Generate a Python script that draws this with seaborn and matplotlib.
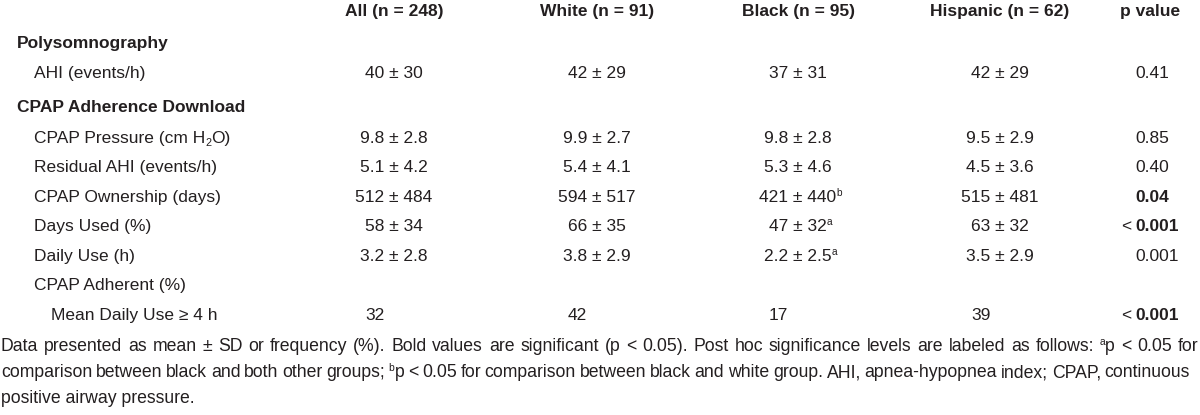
import matplotlib
matplotlib.use("Agg")
import matplotlib.pyplot as plt
from matplotlib import font_manager as fm
import seaborn as sns

# ---------------- data ----------------
group_headers = ["All (n = 248)", "White (n = 91)", "Black (n = 95)", "Hispanic (n = 62)"]
p_header = "p value"

# each label is a list of (text, style) pieces; style: n normal, b bold, sub, sup
row_labels = [
    [("Polysomnography", "b")],
    [("AHI (events/h)", "n")],
    [("CPAP Adherence Download", "b")],
    [("CPAP Pressure (cm H", "n"), ("2", "sub"), ("O)", "n")],
    [("Residual AHI (events/h)", "n")],
    [("CPAP Ownership (days)", "n")],
    [("Days Used (%)", "n")],
    [("Daily Use (h)", "n")],
    [("CPAP Adherent (%)", "n")],
    [("Mean Daily Use \u2265 4 h", "n")],
]
row_indent = [0, 1, 0, 1, 1, 1, 1, 1, 1, 2]
data_rows = [1, 3, 4, 5, 6, 7, 9]          # rows that carry values

all_mean = ["40", "9.8", "5.1", "512", "58", "3.2", "32"]
all_sd = ["30", "2.8", "4.2", "484", "34", "2.8", None]
white_mean = ["42", "9.9", "5.4", "594", "66", "3.8", "42"]
white_sd = ["29", "2.7", "4.1", "517", "35", "2.9", None]
black_mean = ["37", "9.8", "5.3", "421", "47", "2.2", "17"]
black_sd = ["31", "2.8", "4.6", "440", "32", "2.5", None]
black_sup = ["", "", "", "b", "a", "a", ""]
hisp_mean = ["42", "9.5", "4.5", "515", "63", "3.5", "39"]
hisp_sd = ["29", "2.9", "3.6", "481", "32", "2.9", None]

p_values = ["0.41", "0.85", "0.40", "0.04", "0.001", "0.001", "0.001"]
p_prefix = ["", "", "", "", "<", "", "<"]
p_bold = [False, False, False, True, True, False, True]

footnote_lines = [
    [("Data presented as mean \u00b1 SD or frequency (%). Bold values are significant (p < 0.05). "
      "Post hoc significance levels are labeled as follows: ", "n"), ("a", "sup"),
     ("p < 0.05 for", "n")],
    [("comparison between black and both other groups; ", "n"), ("b", "sup"),
     ("p < 0.05 for comparison between black and white group. AHI, apnea-hypopnea index; "
      "CPAP, continuous", "n")],
    [("positive airway pressure.", "n")],
]

# ---------------- style / layout ----------------
sns.set_theme(style="white")


def installed(name):
    try:
        fm.findfont(fm.FontProperties(family=name), fallback_to_default=False)
        return True
    except Exception:
        return False


MAIN = "Liberation Sans Narrow" if installed("Liberation Sans Narrow") else "Liberation Sans"
FAM = [MAIN, "DejaVu Sans"]
plt.rcParams["font.family"] = FAM

INK = "#231f20"
W, H = 1200, 415
col_x = [394, 597, 798, 1000]
p_left = 1135
p_head_x = 1150
indent_x = [17, 34, 51]
header_base = 16
row_base = [48, 78, 112, 143, 172, 202, 231, 261, 290, 320]
foot_base = [351, 377, 403]
foot_target = [1198, 1190, None]

fig = plt.figure(figsize=(W / 100, H / 100), dpi=100)
ax = fig.add_axes([0, 0, 1, 1])
ax.set_xlim(0, W)
ax.set_ylim(H, 0)
ax.axis("off")
renderer = fig.canvas.get_renderer()
inv = ax.transData.inverted()
_cache = {}


def width(s, fs, weight="normal"):
    key = (s, round(fs, 4), weight)
    if key not in _cache:
        t = ax.text(0, 0, s, fontsize=fs, fontweight=weight)
        bb = t.get_window_extent(renderer)
        t.remove()
        (x0, _), (x1, _) = inv.transform([[bb.x0, bb.y0], [bb.x1, bb.y1]])
        _cache[key] = x1 - x0
    return _cache[key]


def advance(s, fs, weight="normal"):
    return width(s + "H", fs, weight) - width("H", fs, weight)


def piece_props(style, fs):
    if style == "b":
        return fs, "bold", 0.0
    if style == "sup":
        return fs * 0.58, "normal", -fs * 0.45
    if style == "sub":
        return fs * 0.62, "normal", fs * 0.25
    return fs, "normal", 0.0


def tokens(pieces):
    out = []
    for s, st in pieces:
        parts = s.split(" ")
        for i, p in enumerate(parts):
            if p:
                out.append((p, st))
            if i < len(parts) - 1:
                out.append((" ", st))
    return out


def rich(x, y, pieces, fs, ha="left", target=None):
    toks = list(pieces) if target is None else tokens(pieces)
    adv = []
    for s, st in toks:
        f, wgt, _ = piece_props(st, fs)
        adv.append(advance(s, f, wgt))
    total = sum(adv)
    extra = 0.0
    if target is not None:
        n_sp = sum(1 for s, _ in toks if s == " ")
        if n_sp:
            extra = (target - total) / n_sp
        total = target
    cx = x - (total / 2 if ha == "center" else total if ha == "right" else 0)
    for (s, st), a in zip(toks, adv):
        f, wgt, dy = piece_props(st, fs)
        if s == " " and target is not None:
            cx += a + extra
            continue
        ax.text(cx, y + dy, s, ha="left", va="baseline", fontsize=f, fontweight=wgt, color=INK)
        cx += a
    return total


# main size fitted to the reference label width
FS = 10 * 187 / width("CPAP Ownership (days)", 10)

# headers
for x, h in zip(col_x, group_headers):
    ax.text(x, header_base, h, ha="center", va="baseline", fontsize=FS,
            fontweight="bold", color=INK)
ax.text(p_head_x, header_base, p_header, ha="center", va="baseline", fontsize=FS,
        fontweight="bold", color=INK)

# row labels
for lab, ind, y in zip(row_labels, row_indent, row_base):
    rich(indent_x[ind], y, lab, FS)

# values
groups = [(all_mean, all_sd, None), (white_mean, white_sd, None),
          (black_mean, black_sd, black_sup), (hisp_mean, hisp_sd, None)]
for gi, (means, sds, sups) in enumerate(groups):
    x = col_x[gi]
    tmpl_w = None
    for k, r in enumerate(data_rows):
        y = row_base[r]
        if sds[k] is not None:
            s = f"{means[k]} \u00b1 {sds[k]}"
            w = advance(s, FS)
            if tmpl_w is None:
                tmpl_w = w
            pieces = [(s, "n")]
            if sups is not None and sups[k]:
                pieces.append((sups[k], "sup"))
            rich(x - w / 2, y, pieces, FS)
        else:
            rich(x - tmpl_w / 2, y, [(means[k], "n")], FS)

# p values
for k, r in enumerate(data_rows):
    y = row_base[r]
    rich(p_left, y, [(p_values[k], "b" if p_bold[k] else "n")], FS)
    if p_prefix[k]:
        ax.text(p_left - 4, y, p_prefix[k], ha="right", va="baseline", fontsize=FS, color=INK)

# footnote: size between the two line fits, then justify lines 1-2
ratios = []
for t, ln in zip(foot_target, footnote_lines):
    if t is not None:
        nat = sum(advance(s, piece_props(st, 10)[0]) for s, st in ln)
        ratios.append(t / nat)
FFS = 10 * (ratios[0] * ratios[1]) ** 0.5
for ln, y, t in zip(footnote_lines, foot_base, foot_target):
    rich(1, y, ln, FFS, target=(t - 1) if t else None)

fig.savefig("out.png", dpi=100, facecolor="white")
